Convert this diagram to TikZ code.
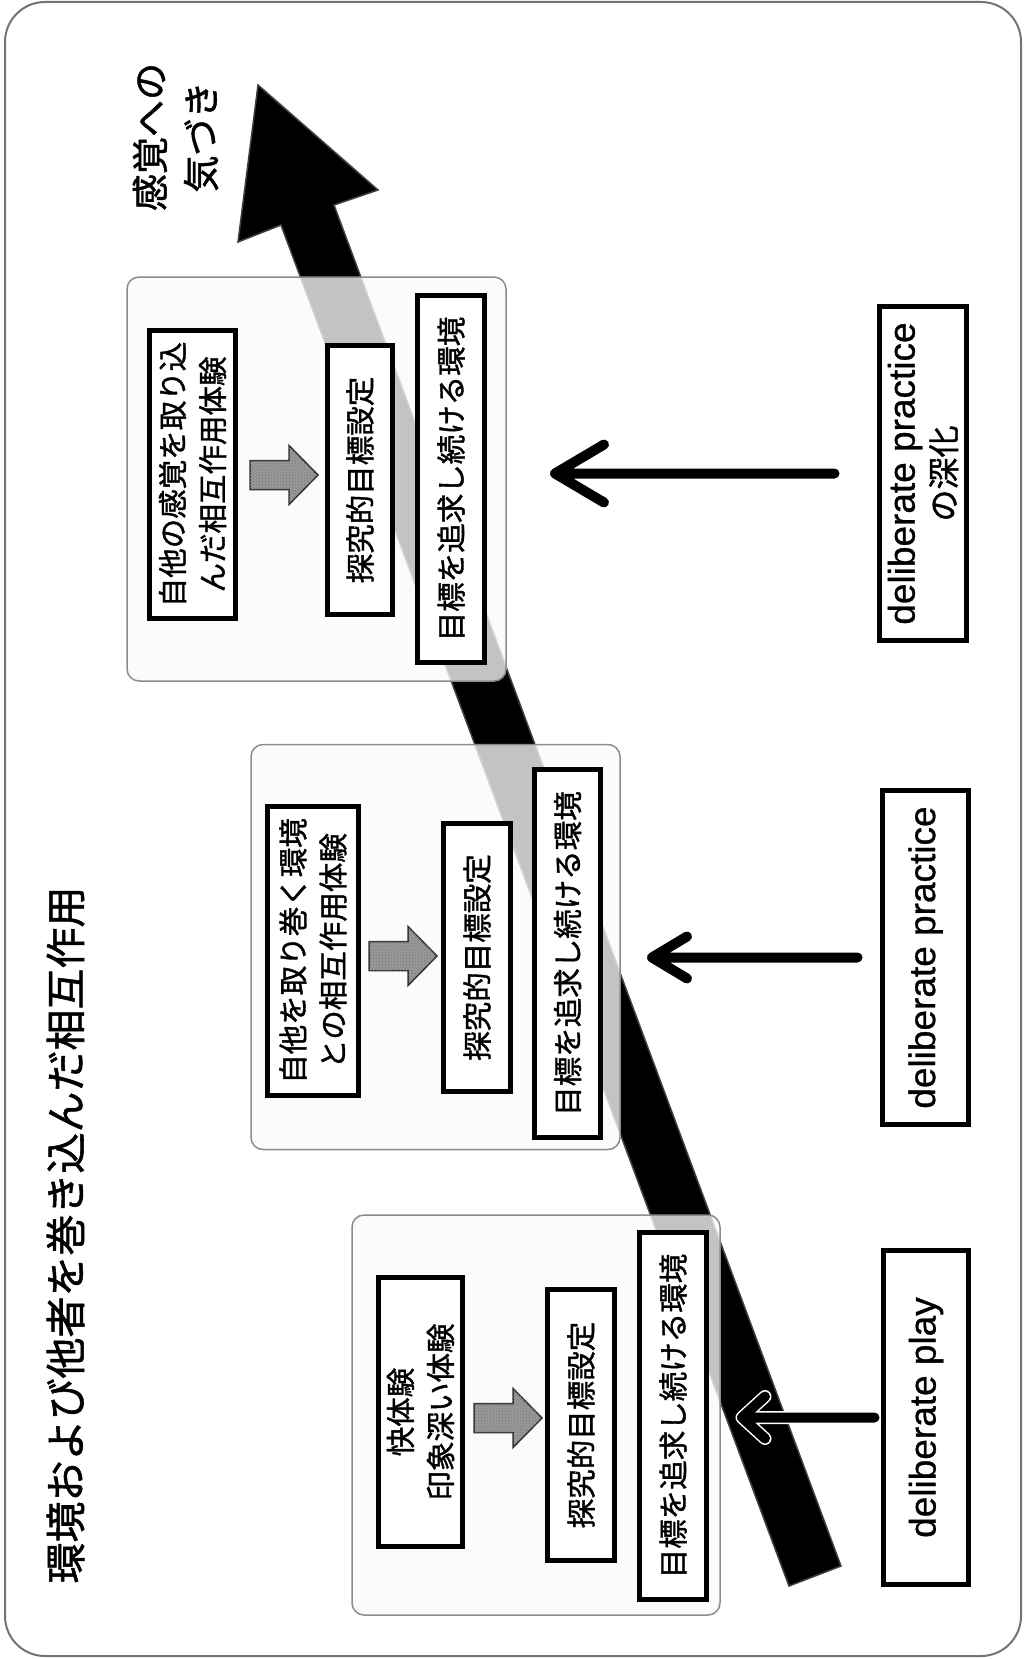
\documentclass[tikz,border=0pt]{standalone}
\usepackage{fontspec}
\setmainfont{Liberation Sans}[FakeBold=0.8]
\newfontfamily\jp{Noto Sans CJK JP}[FakeBold=1.3]
\usetikzlibrary{patterns}
\begin{document}
\begin{tikzpicture}[x=1pt,y=-1pt,
  outerframe/.style={draw=black!55, line width=2pt, rounded corners=40pt},
  grp/.style={draw=black!45, line width=1.5pt, rounded corners=12pt, fill=black!2, fill opacity=0.78, inner sep=0pt, outer sep=0pt},
  ibox/.style={draw, line width=5pt, fill=white, rotate=90, inner sep=0pt, outer sep=0pt, align=center, font=\jp\fontsize{29.5}{40}\selectfont},
  rbox/.style={draw, line width=5pt, fill=white, rotate=90, inner sep=0pt, outer sep=0pt, align=center, font=\fontsize{37}{41}\selectfont},
  thinarr/.style={line width=10pt, line cap=round, line join=round, preaction={draw=white, line width=13pt, line cap=round, line join=round}},
  fatarr/.pic={\path[draw=black!80, line width=1.5pt, fill=black!40, postaction={pattern=crosshatch dots, pattern color=black!55}]
     (-34,-14.5) -- (5,-14.5) -- (5,-29.5) -- (34,0) -- (5,29.5) -- (5,14.5) -- (-34,14.5) -- cycle;}
]
\useasboundingbox (0,0) rectangle (1024,1659);
\draw[outerframe] (5,2) rectangle (1021,1656);

% big arrow
\path[fill=black, draw=black!75, line width=1.5pt, line join=miter]
  (789,1586) -- (281,225) -- (238,242) -- (258,85) -- (378,190) -- (334,205) -- (841,1566) -- cycle;

% group boxes
\node[grp, minimum width=379pt, minimum height=404pt] (g3) at (316.5,479) {};
\node[grp, minimum width=369pt, minimum height=405pt] (g2) at (435.5,947) {};
\node[grp, minimum width=368pt, minimum height=400pt] (g1) at (536,1415) {};

% group 3
\node[ibox, minimum width=288pt, minimum height=86pt] (g3a) at (192.5,474.5) {自他の感覚を取り込\\んだ相互作用体験};
\pic at (284,475) {fatarr};
\node[ibox, minimum width=269pt, minimum height=65pt] (g3b) at (360,480) {探究的目標設定};
\node[ibox, minimum width=367pt, minimum height=67pt] (g3c) at (451,479) {目標を追求し続ける環境};

% group 2
\node[ibox, minimum width=289pt, minimum height=91pt] (g2a) at (313,951) {自他を取り巻く環境\\との相互作用体験};
\pic at (403,956) {fatarr};
\node[ibox, minimum width=268pt, minimum height=67pt] (g2b) at (477,957.5) {探究的目標設定};
\node[ibox, minimum width=368pt, minimum height=66pt] (g2c) at (567.5,953.5) {目標を追求し続ける環境};

% group 1
\node[ibox, minimum width=269pt, minimum height=84pt] (g1a) at (420.5,1412) {快体験\\印象深い体験};
\pic at (508,1418) {fatarr};
\node[ibox, minimum width=271pt, minimum height=67pt] (g1b) at (581,1425) {探究的目標設定};
\node[ibox, minimum width=367pt, minimum height=67pt] (g1c) at (673,1416) {目標を追求し続ける環境};

% right boxes
\node[rbox, minimum width=334pt, minimum height=87pt] (r3) at (923,473.5) {deliberate practice\\{\jp\fontsize{32}{32}\selectfont の深化}};
\node[rbox, minimum width=334pt, minimum height=86pt] (r2) at (925.5,957.5) {deliberate practice};
\node[rbox, minimum width=334pt, minimum height=85pt] (r1) at (926,1417.5) {deliberate play};

% title and label
\node[rotate=90, inner sep=0pt, font=\jp\fontsize{41}{41}\selectfont] (title) at (65.5,1235) {環境および他者を巻き込んだ相互作用};
\node[rotate=90, inner sep=0pt, align=center, font=\jp\fontsize{37}{51}\selectfont] (goal) at (175.5,137) {感覚への\\気づき};

% thin arrows
\coordinate (s3) at ([xshift=-45pt]r3.north);
\coordinate (t3) at ([xshift=49pt]g3.east);
\draw[thinarr] (s3) -- (t3 |- s3) -- ++(49,-29) (t3 |- s3) -- ++(49,29);

\coordinate (s2) at ([xshift=-25pt]r2.north);
\coordinate (t2) at ([xshift=32pt]g2.east);
\draw[thinarr] (s2) -- (t2 |- s2) -- ++(35,-21) (t2 |- s2) -- ++(35,21);

\coordinate (s1) at ([xshift=-9pt]r1.north);
\coordinate (t1) at ([xshift=22pt]g1.east);
\draw[thinarr] (s1) -- (t1 |- s1) -- ++(23,-21) (t1 |- s1) -- ++(23,21);
\end{tikzpicture}
\end{document}
